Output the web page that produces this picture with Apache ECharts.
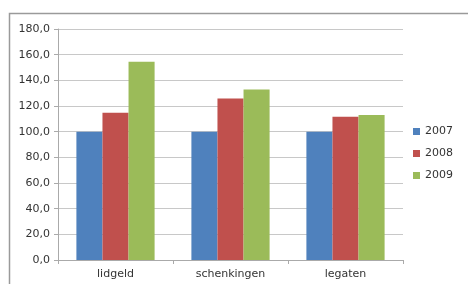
<!DOCTYPE html>
<html lang="nl">
<head>
  <meta charset="UTF-8">
  <title>lidgeld, schenkingen, legaten</title>
  <script src="https://cdn.jsdelivr.net/npm/echarts@6/dist/echarts.min.js"></script>
  <style>
    html, body { margin: 0; padding: 0; background: #fff; }
    #main { width: 468px; height: 284px; }
  </style>
</head>
<body>
  <div id="main"></div>
  <script>
    // categorieen en waarden (index, 2007 = 100)
    var categories = ['lidgeld', 'schenkingen', 'legaten']
    var years = ['2007', '2008', '2009']
    var v2007 = [100, 100, 100]
    var v2008 = [114.8, 125.8, 111.6]
    var v2009 = [154.4, 132.8, 113.0]
    var colors = ['#4F81BD', '#C0504D', '#9BBB59']

    var chart = echarts.init(document.getElementById('main'))

    function makeSeries(name, data, i) {
      return {
        name: name,
        type: 'bar',
        data: data,
        barGap: '0%',
        barCategoryGap: '32%',
        itemStyle: { color: colors[i] }
      }
    }

    var option = {
      animation: false,
      textStyle: { fontFamily: 'DejaVu Sans' },
      graphic: [{
        type: 'polyline',
        shape: { points: [[9.5, 290], [9.5, 13.5], [470, 13.5]] },
        style: { stroke: '#9a9a9a', lineWidth: 1.5, fill: null }
      }],
      grid: { left: 58, right: 65, top: 29, bottom: 24 },
      legend: {
        orient: 'vertical',
        right: 10,
        top: 121,
        itemWidth: 7,
        itemHeight: 7,
        itemGap: 11,
        icon: 'rect',
        textStyle: { fontSize: 11, color: '#333', fontFamily: 'DejaVu Sans' },
        data: years
      },
      xAxis: {
        type: 'category',
        data: categories,
        axisLine: { lineStyle: { color: '#aaa' } },
        axisTick: { show: true, length: 4, lineStyle: { color: '#aaa' } },
        axisLabel: { fontSize: 11, color: '#333', margin: 9 }
      },
      yAxis: {
        type: 'value',
        min: 0,
        max: 180,
        interval: 20,
        axisLine: { show: true, lineStyle: { color: '#aaa' } },
        axisTick: { show: true, length: 4, lineStyle: { color: '#aaa' } },
        splitLine: { lineStyle: { color: '#c8c8c8' } },
        axisLabel: {
          fontSize: 11,
          color: '#333',
          margin: 8,
          formatter: function (v) { return v.toFixed(1).replace('.', ',') }
        }
      },
      series: [
        makeSeries(years[0], v2007, 0),
        makeSeries(years[1], v2008, 1),
        makeSeries(years[2], v2009, 2)
      ]
    }
    chart.setOption(option)
  </script>
</body>
</html>
